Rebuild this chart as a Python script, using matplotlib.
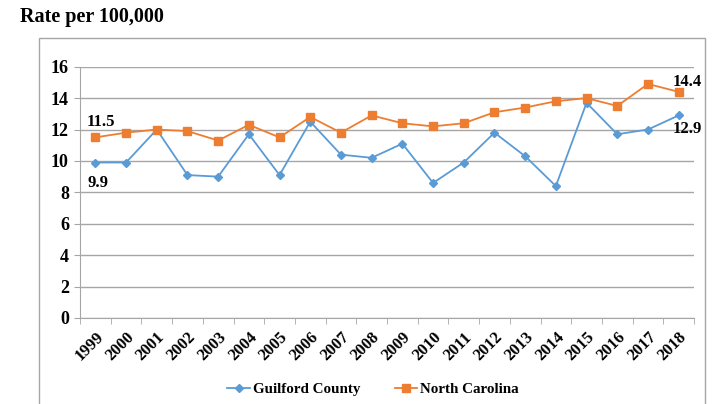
import matplotlib.pyplot as plt
from matplotlib.patches import Rectangle

years = [str(y) for y in range(1999, 2019)]
guilford = [9.9, 9.9, 12.0, 9.1, 9.0, 11.7, 9.1, 12.5, 10.4, 10.2,
            11.1, 8.6, 9.9, 11.8, 10.3, 8.4, 13.7, 11.7, 12.0, 12.9]
north_carolina = [11.5, 11.8, 12.0, 11.9, 11.3, 12.3, 11.5, 12.8, 11.8, 12.9,
                  12.4, 12.2, 12.4, 13.1, 13.4, 13.8, 14.0, 13.5, 14.9, 14.4]

plt.rcParams['font.family'] = ['Liberation Serif', 'DejaVu Serif']
plt.rcParams['font.weight'] = 'bold'

blue = '#5b9bd5'
orange = '#ed7d31'
grey = '#a6a6a6'

fig = plt.figure(figsize=(7.13, 4.04), dpi=100)

# outer chart frame (bottom edge runs off the picture)
fig.patches.append(Rectangle((39 / 713, -0.05), 666 / 713, 1 - 38 / 404 + 0.05,
                             transform=fig.transFigure, fill=False,
                             edgecolor=grey, linewidth=1.0))

fig.text(20 / 713, 1 - 17 / 404, 'Rate per 100,000', fontsize=14.5,
         fontweight='bold', va='center', ha='left')

ax = fig.add_axes([80 / 713, 1 - 318 / 404, 614 / 713, 251.3 / 404])
x = list(range(len(years)))

ax.plot(x, guilford, color=blue, marker='D', markersize=4, linewidth=1.3,
        label='Guilford County')
ax.plot(x, north_carolina, color=orange, marker='s', markersize=6, linewidth=1.3,
        label='North Carolina')

ax.set_xlim(-0.5, len(years) - 0.5)
ax.set_ylim(0, 16)
ax.set_yticks(range(0, 17, 2))
ax.yaxis.grid(True, color=grey, linewidth=1.0)
ax.set_axisbelow(True)

ax.set_xticks(x)
ax.set_xticklabels(years, rotation=45, ha='right', va='top',
                   rotation_mode='anchor', fontsize=12, fontweight='bold')
ax.set_xticks([i - 0.5 for i in range(len(years) + 1)], minor=True)
ax.tick_params(axis='x', which='major', length=0, pad=8)
ax.tick_params(axis='x', which='minor', length=4, color=grey)
ax.tick_params(axis='y', length=4, color=grey, labelsize=13, pad=4)
for lab in ax.get_yticklabels():
    lab.set_fontweight('bold')

for s in ['top', 'right']:
    ax.spines[s].set_visible(False)
for s in ['left', 'bottom']:
    ax.spines[s].set_color(grey)

ax.annotate(f'{north_carolina[0]}', (x[0], north_carolina[0]), xytext=(-6, 11),
            textcoords='offset points', fontsize=12, fontweight='bold', ha='left', va='center')
ax.annotate(f'{guilford[0]}', (x[0], guilford[0]), xytext=(-6, -14.5),
            textcoords='offset points', fontsize=12, fontweight='bold', ha='left', va='center')
ax.annotate(f'{north_carolina[-1]}', (x[-1], north_carolina[-1]), xytext=(-4, 7),
            textcoords='offset points', fontsize=12, fontweight='bold', ha='left', va='center')
ax.annotate(f'{guilford[-1]}', (x[-1], guilford[-1]), xytext=(-4, -9.5),
            textcoords='offset points', fontsize=12, fontweight='bold', ha='left', va='center')

fig.legend(loc='center', bbox_to_anchor=(373 / 713, 1 - 389 / 404), ncol=2,
           frameon=False, fontsize=10.8, handlelength=1.5, columnspacing=2.3,
           handletextpad=0.2)

fig.savefig('out.png', dpi=100)
